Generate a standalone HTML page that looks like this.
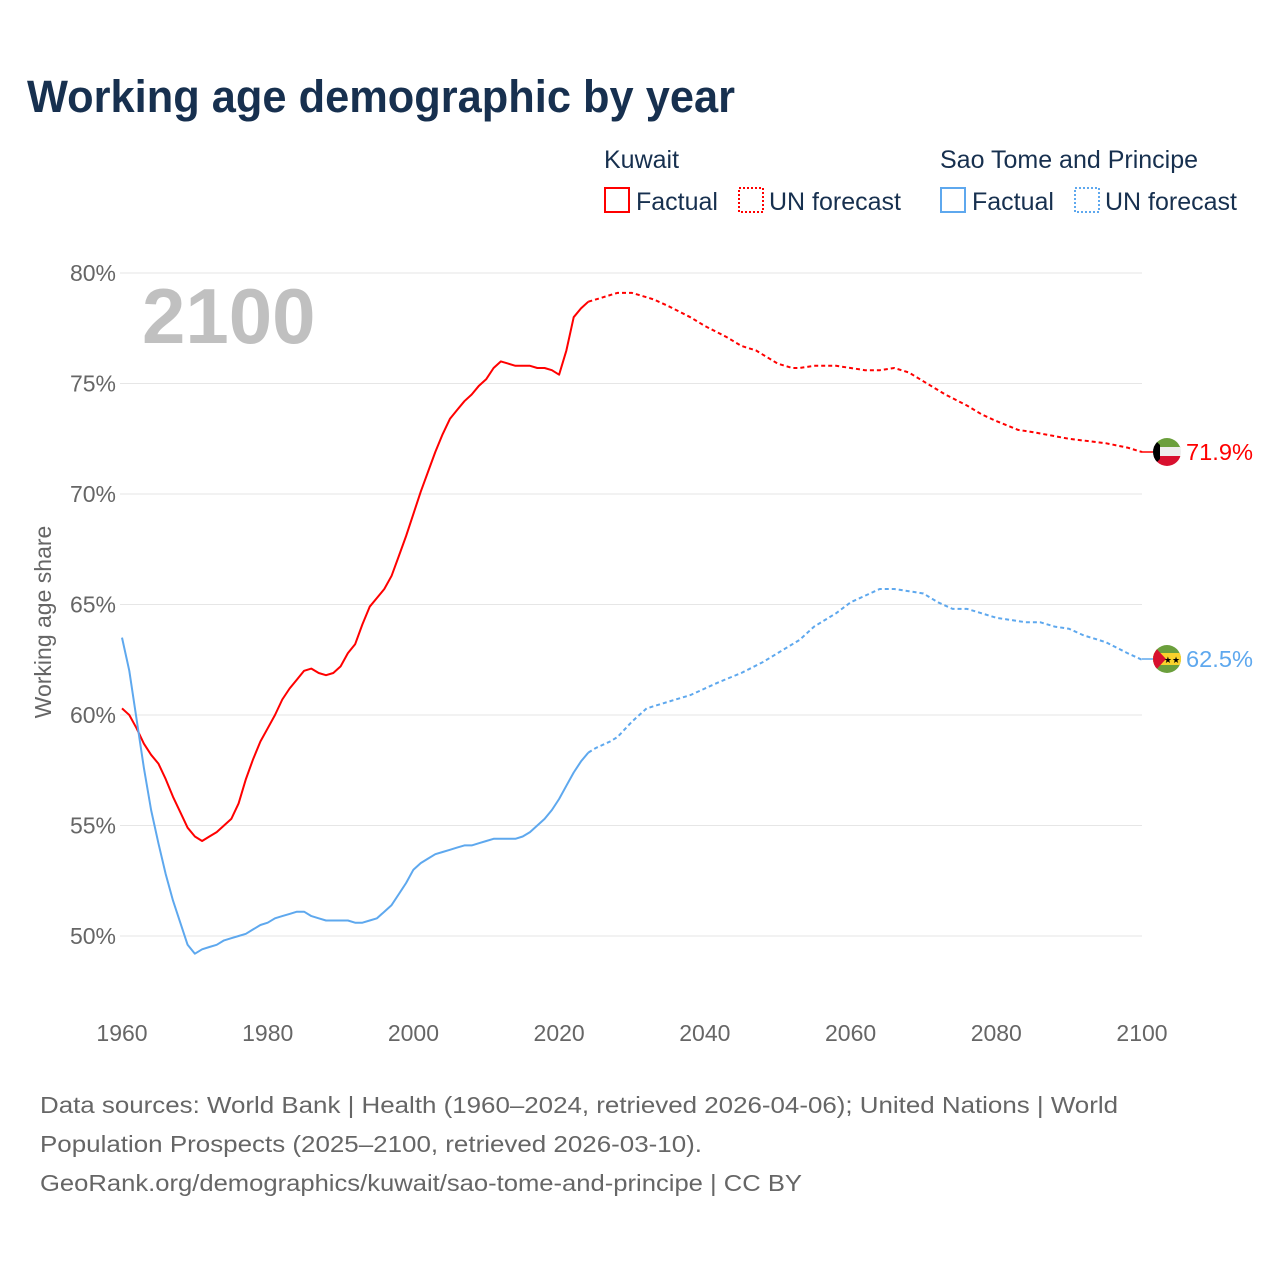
<!DOCTYPE html>
<html><head><meta charset="utf-8">
<style>
html,body{margin:0;padding:0;background:#fff;}
body{width:1280px;height:1280px;position:relative;overflow:hidden;font-family:"Liberation Sans",sans-serif;}
svg text{font-family:"Liberation Sans",sans-serif;}
</style></head>
<body>
<svg id="chart" width="1280" height="1280" viewBox="0 0 1280 1280" xmlns="http://www.w3.org/2000/svg">
<text x="27" y="112" font-size="45" font-weight="bold" fill="#17304f" textLength="708" lengthAdjust="spacingAndGlyphs">Working age demographic by year</text>
<g font-size="25" fill="#17304f">
 <text x="604" y="168">Kuwait</text>
 <rect x="605" y="188" width="24" height="24" fill="none" stroke="#ff0000" stroke-width="2"/>
 <text x="636" y="210">Factual</text>
 <rect x="739" y="188" width="24" height="24" fill="none" stroke="#ff0000" stroke-width="2" stroke-dasharray="2,2"/>
 <text x="769" y="210">UN forecast</text>
 <text x="940" y="168">Sao Tome and Principe</text>
 <rect x="941" y="188" width="24" height="24" fill="none" stroke="#5ea8ee" stroke-width="2"/>
 <text x="972" y="210">Factual</text>
 <rect x="1075" y="188" width="24" height="24" fill="none" stroke="#5ea8ee" stroke-width="2" stroke-dasharray="2,2"/>
 <text x="1105" y="210">UN forecast</text>
</g>
<g id="grid"></g>
<g id="yticks" font-size="23" fill="#666" text-anchor="end"></g>
<g id="xticks" font-size="23" fill="#666" text-anchor="middle"></g>
<text transform="translate(51,622) rotate(-90)" font-size="23" fill="#666" text-anchor="middle">Working age share</text>
<text x="142" y="343" font-size="78" font-weight="bold" fill="#c0c0c0">2100</text>
<g id="lines"></g>
<line x1="1142" y1="452" x2="1153" y2="452" stroke="#ff0000" stroke-width="1.5"/>
<line x1="1142" y1="659" x2="1153" y2="659" stroke="#5ea8ee" stroke-width="1.5"/>
<g>
 <clipPath id="c1"><circle cx="1167" cy="452" r="14"/></clipPath>
 <g clip-path="url(#c1)">
  <rect x="1153" y="438" width="28" height="10" fill="#6b9f3c"/>
  <rect x="1153" y="447" width="28" height="10" fill="#eeeeee"/>
  <rect x="1153" y="456" width="28" height="10" fill="#d8102f"/>
  <polygon points="1153,438 1160,445 1160,459 1153,466" fill="#000"/>
 </g>
</g>
<g>
 <clipPath id="c2"><circle cx="1167" cy="659" r="14"/></clipPath>
 <g clip-path="url(#c2)">
  <rect x="1153" y="645" width="28" height="28" fill="#6b9f3c"/>
  <rect x="1153" y="653" width="28" height="12" fill="#f8d22c"/>
  <polygon points="1153,645 1166,659 1153,673" fill="#d8102f"/>
  <text x="1172" y="663" font-size="9" fill="#000" text-anchor="middle">★★</text>
 </g>
</g>
<text x="1186" y="460" font-size="23" fill="#ff0000" textLength="67" lengthAdjust="spacingAndGlyphs">71.9%</text>
<text x="1186" y="667" font-size="23" fill="#5ea8ee" textLength="67" lengthAdjust="spacingAndGlyphs">62.5%</text>
<g font-size="23" fill="#666">
 <text x="40" y="1113" textLength="1078" lengthAdjust="spacingAndGlyphs">Data sources: World Bank | Health (1960–2024, retrieved 2026-04-06); United Nations | World</text>
 <text x="40" y="1152" textLength="662" lengthAdjust="spacingAndGlyphs">Population Prospects (2025–2100, retrieved 2026-03-10).</text>
 <text x="40" y="1191" textLength="762" lengthAdjust="spacingAndGlyphs">GeoRank.org/demographics/kuwait/sao-tome-and-principe | CC BY</text>
</g>
</svg>
<script>
const yTicks = [50, 55, 60, 65, 70, 75, 80];
const xTicks = [1960, 1980, 2000, 2020, 2040, 2060, 2080, 2100];
const kwFactYears = [1960,1961,1962,1963,1964,1965,1966,1967,1968,1969,1970,1971,1972,1973,1974,1975,1976,1977,1978,1979,1980,1981,1982,1983,1984,1985,1986,1987,1988,1989,1990,1991,1992,1993,1994,1995,1996,1997,1998,1999,2000,2001,2002,2003,2004,2005,2006,2007,2008,2009,2010,2011,2012,2013,2014,2015,2016,2017,2018,2019,2020,2021,2022,2023,2024];
const kwFact = [60.3,60.0,59.4,58.7,58.2,57.8,57.1,56.3,55.6,54.9,54.5,54.3,54.5,54.7,55.0,55.3,56.0,57.1,58.0,58.8,59.4,60.0,60.7,61.2,61.6,62.0,62.1,61.9,61.8,61.9,62.2,62.8,63.2,64.1,64.9,65.3,65.7,66.3,67.2,68.1,69.1,70.1,71.0,71.9,72.7,73.4,73.8,74.2,74.5,74.9,75.2,75.7,76.0,75.9,75.8,75.8,75.8,75.7,75.7,75.6,75.4,76.5,78.0,78.4,78.7];
const kwFcYears = [2024,2026,2028,2030,2031,2033,2035,2038,2040,2043,2045,2047,2048,2050,2052,2053,2055,2058,2060,2062,2064,2066,2068,2070,2073,2076,2078,2080,2083,2085,2090,2095,2098,2100];
const kwFc = [78.7,78.9,79.1,79.1,79.0,78.8,78.5,78.0,77.6,77.1,76.7,76.5,76.3,75.9,75.7,75.7,75.8,75.8,75.7,75.6,75.6,75.7,75.5,75.1,74.5,74.0,73.6,73.3,72.9,72.8,72.5,72.3,72.1,71.9];
const stFactYears = kwFactYears;
const stFact = [63.5,62.0,59.8,57.6,55.7,54.2,52.8,51.6,50.6,49.6,49.2,49.4,49.5,49.6,49.8,49.9,50.0,50.1,50.3,50.5,50.6,50.8,50.9,51.0,51.1,51.1,50.9,50.8,50.7,50.7,50.7,50.7,50.6,50.6,50.7,50.8,51.1,51.4,51.9,52.4,53.0,53.3,53.5,53.7,53.8,53.9,54.0,54.1,54.1,54.2,54.3,54.4,54.4,54.4,54.4,54.5,54.7,55.0,55.3,55.7,56.2,56.8,57.4,57.9,58.3];
const stFcYears = [2024,2025,2027,2028,2030,2032,2035,2038,2040,2042,2045,2048,2050,2053,2055,2058,2060,2062,2064,2066,2068,2070,2072,2074,2076,2078,2080,2082,2084,2086,2088,2090,2092,2095,2098,2100];
const stFc = [58.3,58.5,58.8,59.0,59.7,60.3,60.6,60.9,61.2,61.5,61.9,62.4,62.8,63.4,64.0,64.6,65.1,65.4,65.7,65.7,65.6,65.5,65.1,64.8,64.8,64.6,64.4,64.3,64.2,64.2,64.0,63.9,63.6,63.3,62.8,62.5];

const NS = 'http://www.w3.org/2000/svg';
const X = y => 122 + (y - 1960) * (1142 - 122) / 140;
const Y = v => 936 - (v - 50) * (936 - 273) / 30;
const grid = document.getElementById('grid');
const yt = document.getElementById('yticks');
const xt = document.getElementById('xticks');
yTicks.forEach(v => {
  const l = document.createElementNS(NS, 'line');
  
  
  l.setAttribute('x1', 120); l.setAttribute('x2', 1142);
  l.setAttribute('y1', Y(v)); l.setAttribute('y2', Y(v));
  l.setAttribute('stroke', '#e6e6e6'); l.setAttribute('stroke-width', 1);
  grid.appendChild(l);
  const t = document.createElementNS(NS, 'text');
  
  
  t.setAttribute('x', 116); t.setAttribute('y', Y(v) + 8);
  t.textContent = v + '%';
  yt.appendChild(t);
});
xTicks.forEach(y => {
  const t = document.createElementNS(NS, 'text');
  
  
  t.setAttribute('x', X(y)); t.setAttribute('y', 1041);
  t.textContent = y;
  xt.appendChild(t);
});
const lines = document.getElementById('lines');
function draw(years, vals, color, dashed, name) {
  const p = document.createElementNS(NS, 'path');
  
  
  p.setAttribute('d', years.map((y, i) => (i ? 'L' : 'M') + X(y).toFixed(1) + ',' + Y(vals[i]).toFixed(1)).join(''));
  p.setAttribute('fill', 'none');
  p.setAttribute('stroke', color);
  p.setAttribute('stroke-width', 2);
  p.setAttribute('stroke-linejoin', 'round');
  if (dashed) p.setAttribute('stroke-dasharray', '4,3');
  lines.appendChild(p);
}
draw(kwFactYears, kwFact, '#ff0000', false, 'kuwait-factual-line');
draw(kwFcYears, kwFc, '#ff0000', true, 'kuwait-forecast-line');
draw(stFactYears, stFact, '#5ea8ee', false, 'stp-factual-line');
draw(stFcYears, stFc, '#5ea8ee', true, 'stp-forecast-line');
</script>
</body></html>
